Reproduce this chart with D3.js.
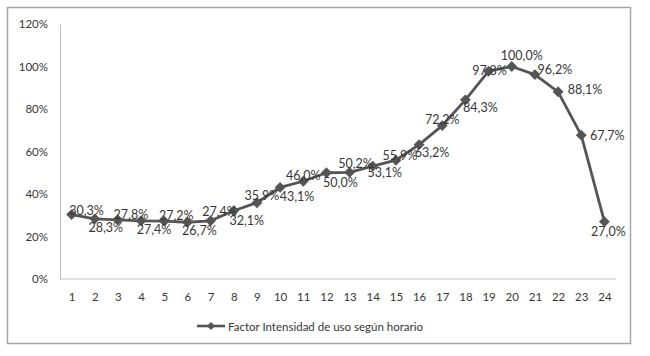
<!DOCTYPE html>
<html><head><meta charset="utf-8">
<script src="https://cdn.jsdelivr.net/npm/d3@7"></script>
<style>body{margin:0;background:#fff}svg{display:block}</style>
</head><body>
<script>
// ---- data ----
const hours = [1,2,3,4,5,6,7,8,9,10,11,12,13,14,15,16,17,18,19,20,21,22,23,24];
const factor = [30.3,28.3,27.8,27.4,27.2,26.7,27.4,32.1,35.9,43.1,46.0,50.0,50.2,53.1,55.9,63.2,72.2,84.3,97.8,100.0,96.2,88.1,67.7,27.0];
const yTicks = [0,20,40,60,80,100,120];
const seriesName = "Factor Intensidad de uso según horario";

// ---- layout (label nudges are style, not data) ----
const labelNudge = [[15,-4],[11,9],[13,-5],[13,9],[12,-6],[12,8],[9,-9],[13,10],[5,-7],[17,9],[0,-6],[14,10],
  [6,-9],[12,6],[4,-5],[13,8],[0,-6],[15,8],[1,-1],[10,-11],[20,-5],[27,-2],[26,0],[4,10]];

const W=650,H=356;
const svg=d3.select("body").append("svg").attr("width",W).attr("height",H);
const font="Lato, 'Open Sans', sans-serif";
const txt="#363636", lineC="#555555";

svg.append("rect").attr("x",7.5).attr("y",7.5).attr("width",623).attr("height",336)
  .attr("fill","#fff").attr("stroke","#a6a6a6").attr("stroke-width",1.5);

const x=d3.scalePoint().domain(hours).range([60,616]).padding(0.5);
const y=d3.scaleLinear().domain([0,120]).range([279,24]);

// axes
const yAx=svg.append("g").attr("transform","translate(60,0)")
  .call(d3.axisLeft(y).tickValues(yTicks).tickSize(0).tickPadding(12).tickFormat(d=>d+"%"));
yAx.select(".domain").attr("stroke","#bfbfbf");
yAx.selectAll("text").attr("font-family",font).attr("font-size",11.5).attr("fill",txt);

const xAx=svg.append("g").attr("transform","translate(0,279)")
  .call(d3.axisBottom(x).tickSize(0).tickPadding(14));
xAx.select(".domain").attr("stroke","#bfbfbf").attr("d","M60,0H616");
xAx.selectAll("text").attr("font-family",font).attr("font-size",11.5).attr("fill",txt);

// line
const pts=hours.map((h,i)=>({h,v:factor[i],i}));
svg.append("path").datum(pts).attr("fill","none").attr("stroke",lineC).attr("stroke-width",2.8)
  .attr("stroke-linejoin","round")
  .attr("d",d3.line().x(d=>x(d.h)).y(d=>y(d.v)));

const diamond=d3.symbol().type(d3.symbolDiamond2).size(75);
svg.selectAll(".m").data(pts).join("path").attr("class","m")
  .attr("transform",d=>`translate(${x(d.h)},${y(d.v)})`)
  .attr("d",diamond).attr("fill",lineC);

const fmt=v=>v.toFixed(1).replace(".",",")+"%";
svg.selectAll(".lbl").data(pts).join("text").attr("class","lbl")
  .attr("x",d=>x(d.h)+labelNudge[d.i][0]).attr("y",d=>y(d.v)+labelNudge[d.i][1])
  .attr("text-anchor","middle").attr("dominant-baseline","central")
  .attr("font-family",font).attr("font-size",12.5).attr("fill",txt)
  .text(d=>fmt(d.v));

// legend
const lg=svg.append("g");
lg.append("line").attr("x1",197).attr("x2",225).attr("y1",326).attr("y2",326)
  .attr("stroke",lineC).attr("stroke-width",2.6);
lg.append("path").attr("transform","translate(211,326)")
  .attr("d",d3.symbol().type(d3.symbolDiamond2).size(40)).attr("fill",lineC);
lg.append("text").attr("x",228).attr("y",326).attr("dominant-baseline","central")
  .attr("font-family",font).attr("font-size",11.5).attr("fill",txt).text(seriesName);
</script>
</body></html>
